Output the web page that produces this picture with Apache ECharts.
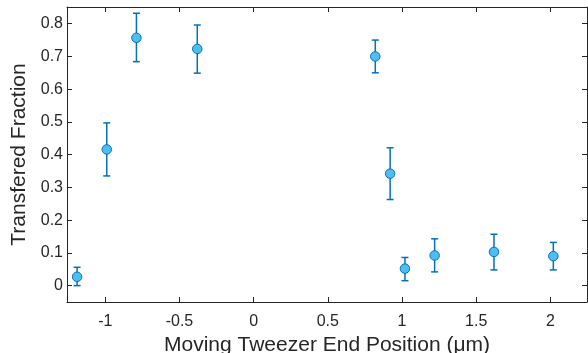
<!DOCTYPE html>
<html>
<head>
<meta charset="utf-8">
<script src="https://cdn.jsdelivr.net/npm/echarts@6/dist/echarts.min.js"></script>
<style>
  html, body { margin: 0; padding: 0; background: #fff; }
  #chart { width: 588px; height: 353px; }
</style>
</head>
<body>
<div id="chart"></div>
<script>
// end position (um), transferred fraction, error bar bounds
const positions = [-1.19, -0.99, -0.79, -0.38, 0.82, 0.92, 1.02, 1.22, 1.62, 2.02];
const fractions = [0.027, 0.416, 0.757, 0.723, 0.700, 0.342, 0.052, 0.092, 0.103, 0.090];
const errLow = [0.0, 0.335, 0.684, 0.649, 0.650, 0.263, 0.015, 0.042, 0.048, 0.048];
const errHigh = [0.056, 0.497, 0.832, 0.796, 0.750, 0.421, 0.086, 0.143, 0.157, 0.132];

const xTicks = [-1, -0.5, 0, 0.5, 1, 1.5, 2];
const yTicks = [0, 0.1, 0.2, 0.3, 0.4, 0.5, 0.6, 0.7, 0.8];

const xMin = -1.258, xMax = 2.247;
const yMin = -0.05, yMax = 0.851;

const axisColor = "#262626";
const font = "'Liberation Sans', Arial, Helvetica, sans-serif";

const chart = echarts.init(document.getElementById("chart"), null, { renderer: "canvas" });

const baseAxis = {
  type: "value",
  axisLine: { show: true, onZero: false, lineStyle: { color: axisColor, width: 1 } },
  axisTick: { show: true, inside: true, length: 5, lineStyle: { color: axisColor, width: 1 } },
  splitLine: { show: false },
};

const xAxes = [
  {
    ...baseAxis,
    min: xMin, max: xMax, position: "bottom",
    axisTick: { ...baseAxis.axisTick, customValues: xTicks },
    axisLabel: {
      customValues: xTicks, color: axisColor, fontFamily: font, fontSize: 16, margin: 12,
      formatter: (v) => String(v),
    },
    name: "Moving Tweezer End Position (\u03bcm)",
    nameLocation: "middle", nameGap: 30,
    nameTextStyle: { color: axisColor, fontFamily: font, fontSize: 21 },
  },
  {
    ...baseAxis,
    min: xMin, max: xMax, position: "top",
    axisTick: { ...baseAxis.axisTick, customValues: xTicks },
    axisLabel: { show: false },
  },
];

const yAxes = [
  {
    ...baseAxis,
    min: yMin, max: yMax, position: "left",
    axisTick: { ...baseAxis.axisTick, customValues: yTicks },
    axisLabel: {
      customValues: yTicks, color: axisColor, fontFamily: font, fontSize: 16, margin: 4,
      formatter: (v) => String(Math.round(v * 10) / 10),
    },
    name: "Transfered Fraction",
    nameLocation: "middle", nameGap: 27,
    nameTextStyle: { color: axisColor, fontFamily: font, fontSize: 21 },
  },
  {
    ...baseAxis,
    min: yMin, max: yMax, position: "right",
    axisTick: { ...baseAxis.axisTick, customValues: yTicks },
    axisLabel: { show: false },
  },
];

const errData = positions.map((x, i) => [x, errLow[i], errHigh[i]]);
const pointData = positions.map((x, i) => [x, fractions[i]]);

chart.setOption({
  animation: false,
  grid: { left: 67, right: 1, top: 7, bottom: 51, containLabel: false, outerBoundsMode: "none" },
  xAxis: xAxes,
  yAxis: yAxes,
  series: [
    {
      type: "custom",
      xAxisIndex: 0, yAxisIndex: 0,
      data: errData,
      renderItem: (params, api) => {
        const x = api.value(0);
        const lo = api.coord([x, api.value(1)]);
        const hi = api.coord([x, api.value(2)]);
        const cap = 3.5;
        const style = { stroke: "#0072BD", lineWidth: 1.5 };
        return {
          type: "group",
          children: [
            { type: "line", shape: { x1: lo[0], y1: lo[1], x2: hi[0], y2: hi[1] }, style },
            { type: "line", shape: { x1: hi[0] - cap, y1: hi[1], x2: hi[0] + cap, y2: hi[1] }, style },
            { type: "line", shape: { x1: lo[0] - cap, y1: lo[1], x2: lo[0] + cap, y2: lo[1] }, style },
          ],
        };
      },
      z: 2,
    },
    {
      type: "scatter",
      xAxisIndex: 0, yAxisIndex: 0,
      data: pointData,
      symbol: "circle",
      symbolSize: 9.5,
      itemStyle: { color: "#4DBEEE", borderColor: "#0072BD", borderWidth: 1, opacity: 1 },
      z: 3,
    },
  ],
});
</script>
</body>
</html>
